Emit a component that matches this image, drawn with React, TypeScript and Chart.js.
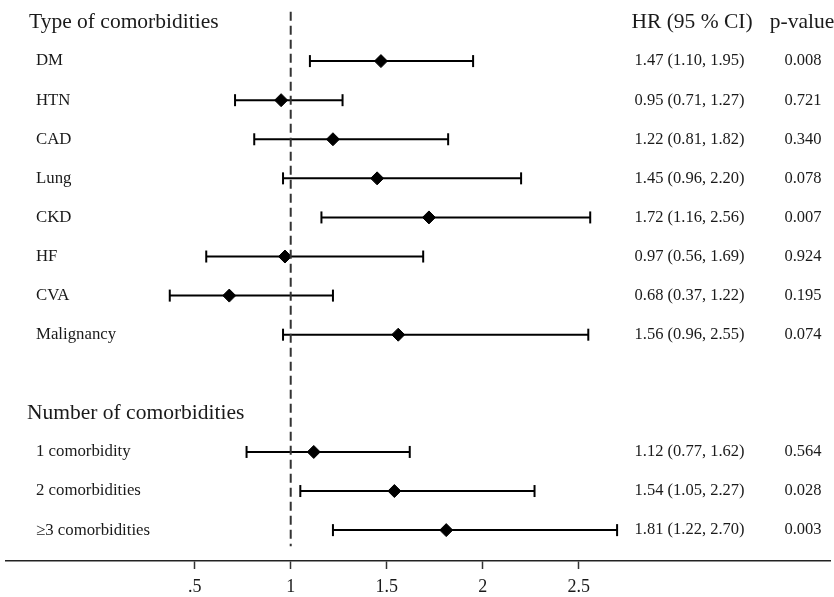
import React, { useEffect, useRef } from "react";
import { Chart, registerables } from "chart.js";

Chart.register(...registerables);

const groupTitles = ["Type of comorbidities", "Number of comorbidities"];
const categories = [
  "DM", "HTN", "CAD", "Lung", "CKD", "HF", "CVA", "Malignancy",
  "1 comorbidity", "2 comorbidities", "≥3 comorbidities",
];
// row index of each category in the plot (0 and 10 are group titles, 9 blank)
const rowIndex = [1, 2, 3, 4, 5, 6, 7, 8, 11, 12, 13];
const hr = [1.47, 0.95, 1.22, 1.45, 1.72, 0.97, 0.68, 1.56, 1.12, 1.54, 1.81];
const ciLow = [1.10, 0.71, 0.81, 0.96, 1.16, 0.56, 0.37, 0.96, 0.77, 1.05, 1.22];
const ciHigh = [1.95, 1.27, 1.82, 2.20, 2.56, 1.69, 1.22, 2.55, 1.62, 2.27, 2.70];
const pValues = ["0.008", "0.721", "0.340", "0.078", "0.007", "0.924", "0.195", "0.074", "0.564", "0.028", "0.003"];
const xTicks = [0.5, 1, 1.5, 2, 2.5];
const refValue = 1;

const FONT = "'Liberation Serif', 'DejaVu Serif', serif";
const TEXT_COLOR = "#1a1a1a";

const textPlugin = {
  id: "forestText",
  afterDraw(chart: any) {
    const ctx = chart.ctx;
    const y = chart.scales.y;
    ctx.save();
    ctx.fillStyle = TEXT_COLOR;
    ctx.textBaseline = "middle";
    // group titles
    ctx.font = `21.5px ${FONT}`;
    ctx.textAlign = "left";
    ctx.fillText(groupTitles[0], 29, y.getPixelForValue(0));
    ctx.fillText(groupTitles[1], 27, y.getPixelForValue(10));
    // headers
    ctx.font = `21.5px ${FONT}`;
    ctx.textAlign = "center";
    ctx.fillText("HR (95 % CI)", 692, y.getPixelForValue(0));
    ctx.fillText("p-value", 802, y.getPixelForValue(0));
    // rows
    categories.forEach((c, i) => {
      const py = y.getPixelForValue(rowIndex[i]);
      ctx.font = `16.8px ${FONT}`;
      ctx.textAlign = "left";
      ctx.fillText(c, 36, py);
      ctx.font = `16.5px ${FONT}`;
      ctx.textAlign = "center";
      ctx.fillText(
        `${hr[i].toFixed(2)} (${ciLow[i].toFixed(2)}, ${ciHigh[i].toFixed(2)})`,
        689.5,
        py
      );
      ctx.fillText(pValues[i], 803, py);
    });
    ctx.restore();
  },
};

export default function App() {
  const ref = useRef<HTMLCanvasElement>(null);
  useEffect(() => {
    if (!ref.current) return;
    const ciSets = categories.map((_, i) => ({
      data: [
        { x: ciLow[i], y: rowIndex[i] },
        { x: ciHigh[i], y: rowIndex[i] },
      ],
      showLine: true,
      borderColor: "#000",
      borderWidth: 2,
      pointStyle: "line",
      rotation: 90,
      pointRadius: 6,
      pointBorderWidth: 2,
      pointBorderColor: "#000",
    }));
    const chart = new Chart(ref.current, {
      type: "scatter",
      data: {
        datasets: [
          {
            data: [
              { x: refValue, y: -0.26 },
              { x: refValue, y: 13.41 },
            ],
            showLine: true,
            borderColor: "#333",
            borderWidth: 2,
            borderDash: [9, 5],
            pointRadius: 0,
          },
          ...ciSets,
          {
            data: categories.map((_, i) => ({ x: hr[i], y: rowIndex[i] })),
            pointStyle: "rectRot",
            pointRadius: 6.5,
            pointBackgroundColor: "#000",
            pointBorderColor: "#000",
            pointBorderWidth: 1,
          },
        ],
      } as any,
      options: {
        responsive: false,
        animation: false,
        layout: { autoPadding: false, padding: { left: 6, right: 4, top: 0, bottom: 0 } },
        plugins: { legend: { display: false }, tooltip: { enabled: false } },
        scales: {
          x: {
            type: "linear",
            min: -0.483,
            max: 3.809,
            afterBuildTicks: (axis: any) => {
              axis.ticks = xTicks.map((v) => ({ value: v }));
            },
            afterFit: (axis: any) => {
              axis.height = 36;
            },
            grid: {
              drawOnChartArea: false,
              drawTicks: true,
              tickLength: 8,
              tickWidth: 1.5,
              tickColor: "#333",
            },
            border: { display: true, color: "#222", width: 1.5 },
            ticks: {
              color: TEXT_COLOR,
              font: { family: FONT, size: 18, lineHeight: 1.1 },
              padding: 8,
              maxRotation: 0,
              callback: (v: any) => (v === 0.5 ? ".5" : String(v)),
            },
          },
          y: {
            type: "linear",
            display: false,
            reverse: true,
            min: -0.563,
            max: 13.79,
          },
        },
      },
      plugins: [textPlugin],
    } as any);
    return () => chart.destroy();
  }, []);
  return (
    <div style={{ position: "fixed", left: 0, top: 0, width: 834, height: 597, background: "#fff" }}>
      <canvas ref={ref} width={834} height={597} />
    </div>
  );
}
